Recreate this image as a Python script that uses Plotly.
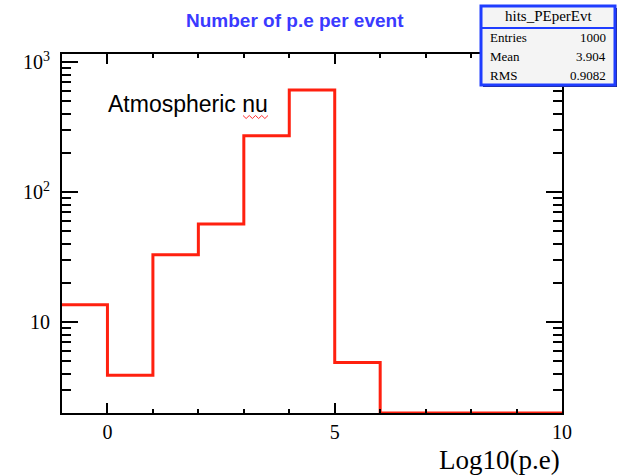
import plotly.graph_objects as go
import numpy as np

# ---- data ----
bin_edges = list(range(-1, 11))
counts = [13.6, 3.9, 33, 57, 272, 612, 4.9, 0, 0, 0, 0]
x_tickvals = [0, 5, 10]
y_tickvals = [10, 100, 1000]
y_ticktext = ["10", "10<sup>2</sup>", "10<sup>3</sup>"]
hist_name = "hits_PEperEvt"
stats_labels = ["Entries", "Mean", "RMS"]
stats_values = ["1000", "3.904", "0.9082"]
title_text = "Number of p.e per event"
x_title = "Log10(p.e)"
label_text = "Atmospheric nu"

# ---- layout geometry ----
W, H = 619, 475
L, R, T, B = 62, 562, 54, 413
y_min, y_max = 2, 1156


def px(xp):
    return (xp - L) / (R - L)


def py(yp):
    return (B - yp) / (B - T)


# ROOT draws empty / below-range bins on the frame floor
y_plot = [max(c, y_min) for c in counts]
y_step = y_plot + [y_plot[-1]]

fig = go.Figure()
fig.add_trace(go.Scatter(
    x=bin_edges, y=y_step, mode="lines", line_shape="hv",
    line=dict(color="#ff200f", width=3), showlegend=False, hoverinfo="skip"))

serif = "Liberation Serif, Times New Roman, serif"
sans = "Liberation Sans, Arial, Helvetica, sans-serif"

fig.update_xaxes(
    range=[-1, 10], showline=True, linecolor="black", linewidth=2, mirror="ticks",
    ticks="inside", ticklen=10, tickwidth=2, tickcolor="black",
    tickvals=x_tickvals, ticktext=[str(v) for v in x_tickvals],
    minor=dict(ticks="inside", ticklen=4, tickwidth=2, tickcolor="black", dtick=1, tick0=0, showgrid=False),
    showgrid=False, zeroline=False,
    tickfont=dict(family=serif, size=20, color="black"), ticklabelstandoff=0)

fig.update_yaxes(
    type="log", range=[np.log10(y_min), np.log10(y_max)],
    showline=True, linecolor="black", linewidth=2, mirror="ticks",
    ticks="inside", ticklen=16, tickwidth=2, tickcolor="black",
    tickmode="array", tickvals=y_tickvals, ticktext=y_ticktext,
    minor=dict(ticks="inside", ticklen=9, tickwidth=2, tickcolor="black", dtick="D1", showgrid=False),
    showgrid=False, zeroline=False,
    tickfont=dict(family=serif, size=20, color="black"), ticklabelstandoff=6)

shapes = []
annotations = []

# stats box
bx0, bx1, by0, by1, bsep = 481, 615, 6, 85, 28
shapes.append(dict(type="rect", xref="paper", yref="paper",
                   x0=px(bx0 + 2), x1=px(bx1 + 2), y0=py(by1 + 2), y1=py(by0 + 2),
                   fillcolor="#222266", line=dict(width=0), layer="above"))
shapes.append(dict(type="rect", xref="paper", yref="paper",
                   x0=px(bx0), x1=px(bx1), y0=py(by1), y1=py(by0),
                   fillcolor="#f4f4f4", line=dict(color="#1f3dff", width=3), layer="above"))
shapes.append(dict(type="line", xref="paper", yref="paper",
                   x0=px(bx0), x1=px(bx1), y0=py(bsep), y1=py(bsep),
                   line=dict(color="#1f3dff", width=2), layer="above"))
annotations.append(dict(xref="paper", yref="paper", x=px((bx0 + bx1) / 2), y=py(16),
                        text=hist_name, showarrow=False, xanchor="center", yanchor="middle",
                        font=dict(family=serif, size=15, color="black")))
row_y = [37, 56, 75]
for lab, val, ry in zip(stats_labels, stats_values, row_y):
    annotations.append(dict(xref="paper", yref="paper", x=px(488), y=py(ry), text=lab,
                            showarrow=False, xanchor="left", yanchor="middle",
                            font=dict(family=serif, size=13, color="black")))
    annotations.append(dict(xref="paper", yref="paper", x=px(608), y=py(ry), text=val,
                            showarrow=False, xanchor="right", yanchor="middle",
                            font=dict(family=serif, size=13, color="black")))

# title
annotations.append(dict(xref="paper", yref="paper", x=px(295), y=py(20), text="<b>" + title_text + "</b>",
                        showarrow=False, xanchor="center", yanchor="middle",
                        font=dict(family=sans, size=19, color="#3a3aff")))

# x-axis title
annotations.append(dict(xref="paper", yref="paper", x=1, y=py(460), text=x_title,
                        showarrow=False, xanchor="right", yanchor="middle",
                        font=dict(family=serif, size=27, color="black")))

# label text
annotations.append(dict(xref="paper", yref="paper", x=px(106), y=py(104), text=label_text,
                        showarrow=False, xanchor="left", yanchor="middle",
                        font=dict(family=sans, size=23, color="black")))

# red spell-check squiggle under "nu"
sq_x0, sq_x1, sq_y = 243, 268, 117
n = 8
pts = []
for i in range(n + 1):
    xx = sq_x0 + (sq_x1 - sq_x0) * i / n
    yy = sq_y + (1.5 if i % 2 else -1.5)
    pts.append((px(xx), py(yy)))
path = "M " + " L ".join(f"{a:.5f},{b:.5f}" for a, b in pts)
shapes.append(dict(type="path", xref="paper", yref="paper", path=path,
                   line=dict(color="#ff3030", width=1)))

fig.update_layout(
    width=W, height=H, margin=dict(l=L, r=W - R, t=T, b=H - B, pad=0),
    paper_bgcolor="white", plot_bgcolor="white",
    shapes=shapes, annotations=annotations, showlegend=False)

fig.write_html("out.html", config={"displayModeBar": False},
               post_script="document.body.style.margin='0';document.body.style.overflow='hidden';")
